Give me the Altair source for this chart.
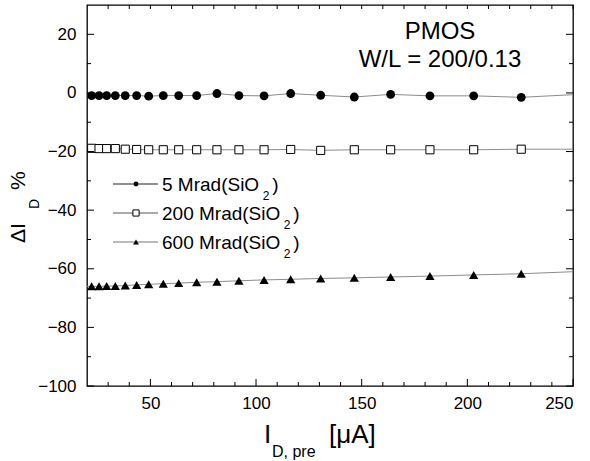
import altair as alt
import pandas as pd

# ---------------- data ----------------
x_vals = [22.2, 25.7, 29.3, 33.4, 38.1, 43.5, 49.2, 56.1, 63.4, 71.9,
          81.5, 91.9, 103.8, 116.4, 130.6, 146.5, 163.7, 182.3, 203.0, 225.5]
y_5mrad = [-0.9, -0.9, -0.9, -0.9, -0.9, -0.9, -1.1, -0.9, -0.9, -0.9,
           -0.2, -0.9, -1.0, -0.2, -0.8, -1.4, -0.5, -1.0, -1.0, -1.5]
y_200mrad = [-18.9, -19.0, -19.0, -19.0, -19.2, -19.3, -19.4, -19.4, -19.4, -19.4,
             -19.4, -19.4, -19.4, -19.3, -19.6, -19.4, -19.4, -19.4, -19.4, -19.2]
y_600mrad = [-66.0, -66.0, -65.9, -65.9, -65.7, -65.5, -65.3, -65.1, -64.9, -64.6,
             -64.4, -64.1, -63.8, -63.6, -63.3, -63.1, -62.8, -62.5, -62.1, -61.7]
series = ["5 Mrad", "200 Mrad", "600 Mrad"]
# the connecting lines run on to both frame edges
line_x_ends = [20, 250]
line_y_left = [-0.9, -18.9, -66.0]
line_y_right = [-0.6, -19.2, -61.0]

x_ticks_major = [50, 100, 150, 200, 250]
x_ticks_minor = [30, 40, 60, 70, 80, 90, 110, 120, 130, 140, 160, 170, 180, 190,
                 210, 220, 230, 240]
y_ticks_major = [-100, -80, -60, -40, -20, 0, 20]
y_ticks_minor = [-90, -70, -50, -30, -10, 10]

legend_labels = ["5 Mrad(SiO", "200 Mrad(SiO", "600 Mrad(SiO"]
annot_lines = ["PMOS", "W/L = 200/0.13"]

# ---------------- layout ----------------
W, H = 486, 381
PL, PT = 87, 5
FONT = "Liberation Sans"
XD = [20, 250]
YD = [-100, 30]

ys = [y_5mrad, y_200mrad, y_600mrad]
pts = pd.DataFrame([
    {"x": x, "y": y, "s": s}
    for s, yy in zip(series, ys) for x, y in zip(x_vals, yy)
])
line_rows = []
for s, yy, yl, yr in zip(series, ys, line_y_left, line_y_right):
    line_rows.append({"x": line_x_ends[0], "y": yl, "s": s})
    line_rows += [{"x": x, "y": y, "s": s} for x, y in zip(x_vals, yy)]
    line_rows.append({"x": line_x_ends[1], "y": yr, "s": s})
lines_df = pd.DataFrame(line_rows)

xs = alt.Scale(domain=XD, nice=False, zero=False)
ysc = alt.Scale(domain=YD, nice=False, zero=False)
x_axis = alt.Axis(values=x_ticks_major, title=None, ticks=False, domain=False,
                  grid=False, labelFont=FONT, labelFontSize=17,
                  labelColor="black", labelPadding=9)
y_axis = alt.Axis(values=y_ticks_major, title=None, ticks=False, domain=False,
                  grid=False, labelFont=FONT, labelFontSize=17,
                  labelColor="black", labelPadding=11)


def X(field):
    return alt.X(field, scale=xs, axis=x_axis)


def Y(field):
    return alt.Y(field, scale=ysc, axis=y_axis)


lines = alt.Chart(lines_df).mark_line(color="#8c8c8c", strokeWidth=1).encode(
    x=X("x:Q"), y=Y("y:Q"), detail="s:N")

circ = alt.Chart(pts[pts.s == series[0]]).mark_point(
    shape="circle", filled=True, color="black", size=78, opacity=1).encode(
    x=X("x:Q"), y=Y("y:Q"))
sq = alt.Chart(pts[pts.s == series[1]]).mark_point(
    shape="square", filled=True, fill="white", stroke="black", strokeWidth=1,
    size=66, opacity=1).encode(x=X("x:Q"), y=Y("y:Q"))
tri = alt.Chart(pts[pts.s == series[2]]).mark_point(
    shape="triangle-up", filled=True, color="black", size=85, opacity=1).encode(
    x=X("x:Q"), y=Y("y:Q"))


# ---------------- inward ticks on all four sides ----------------
def xticks(vals, length, top):
    df = pd.DataFrame({"x": vals})
    y0, y1 = (0, length) if top else (H, H - length)
    return alt.Chart(df).mark_rule(color="black", strokeWidth=1).encode(
        x=X("x:Q"), y=alt.value(y0), y2=alt.value(y1))


def yticks(vals, length, right):
    df = pd.DataFrame({"y": vals})
    x0, x1 = (W, W - length) if right else (0, length)
    return alt.Chart(df).mark_rule(color="black", strokeWidth=1).encode(
        y=Y("y:Q"), x=alt.value(x0), x2=alt.value(x1))


ticks = [
    xticks(x_ticks_major, 7, False), xticks(x_ticks_minor, 4, False),
    xticks(x_ticks_major, 4, True), xticks(x_ticks_minor, 4, True),
    yticks(y_ticks_major, 7, False), yticks(y_ticks_minor, 4, False),
    yticks(y_ticks_major, 7, True), yticks(y_ticks_minor, 4, True),
]


# ---------------- text helpers (absolute page coords -> plot coords) ----------------
def text(t, ax, ay, size, align="left", angle=0):
    df = pd.DataFrame({"t": [t]})
    enc = dict(x=alt.value(ax - PL), y=alt.value(ay - PT), text="t:N")
    if angle:
        enc["angle"] = alt.value(angle)
    return alt.Chart(df).mark_text(
        font=FONT, fontSize=size, align=align, baseline="alphabetic",
        color="black").encode(**enc)


texts = []
# annotation
texts.append(text(annot_lines[0], 440, 39, 24, "center"))
texts.append(text(annot_lines[1], 440, 67, 24, "center"))
# x title: I_{D, pre} [μA]
texts.append(text("I", 264, 443, 26))
texts.append(text("D, pre", 272, 457, 16))
texts.append(text("[μA]", 329, 443, 26))
# y title: ΔI_D %
texts.append(text("ΔI", 25, 243, 21, angle=270))
texts.append(text("D", 39, 209, 14, angle=270))
texts.append(text("%", 25, 190, 21, angle=270))

# ---------------- manual legend ----------------
leg_rows_y = [184, 213, 242]
leg_font = 19
# Arial/Liberation advance widths (per 1000 em) for the legend strings
adv = {" ": 278, "5": 556, "2": 556, "0": 556, "6": 556, "M": 833, "r": 333, "a": 556,
       "d": 556, "(": 333, "S": 667, "i": 222, "O": 778}
leg_layers = []
marks_spec = [
    dict(shape="circle", filled=True, color="black", size=24),
    dict(shape="square", filled=True, fill="white", stroke="black", strokeWidth=1, size=38),
    dict(shape="triangle-up", filled=True, color="black", size=34),
]
line_cols = ["#222222", "#555555", "#777777"]
for lab, ry, spec, lc in zip(legend_labels, leg_rows_y, marks_spec, line_cols):
    one = pd.DataFrame({"t": [lab]})
    leg_layers.append(alt.Chart(one).mark_rule(color=lc, strokeWidth=1).encode(
        x=alt.value(113 - PL), x2=alt.value(158 - PL), y=alt.value(ry - PT)))
    leg_layers.append(alt.Chart(one).mark_point(opacity=1, **spec).encode(
        x=alt.value(136 - PL), y=alt.value(ry - PT)))
    wpx = sum(adv[c] for c in lab) * leg_font / 1000.0
    tx = 162
    leg_layers.append(text(lab, tx, ry + 7, leg_font))
    sx = tx + wpx + 3.5
    leg_layers.append(text("2", sx, ry + 16, 12))
    leg_layers.append(text(")", sx + 9.5, ry + 7, leg_font))

chart = alt.layer(lines, circ, sq, tri, *ticks, *texts, *leg_layers).properties(
    width=W, height=H,
    autosize=alt.AutoSizeParams(type="none"),
    padding={"left": PL, "top": PT, "right": 590 - PL - W, "bottom": 461 - PT - H},
    background="white",
).configure_view(stroke="black", strokeWidth=1.3)

chart.save("out.html", embed_options={"renderer": "svg", "actions": False})
